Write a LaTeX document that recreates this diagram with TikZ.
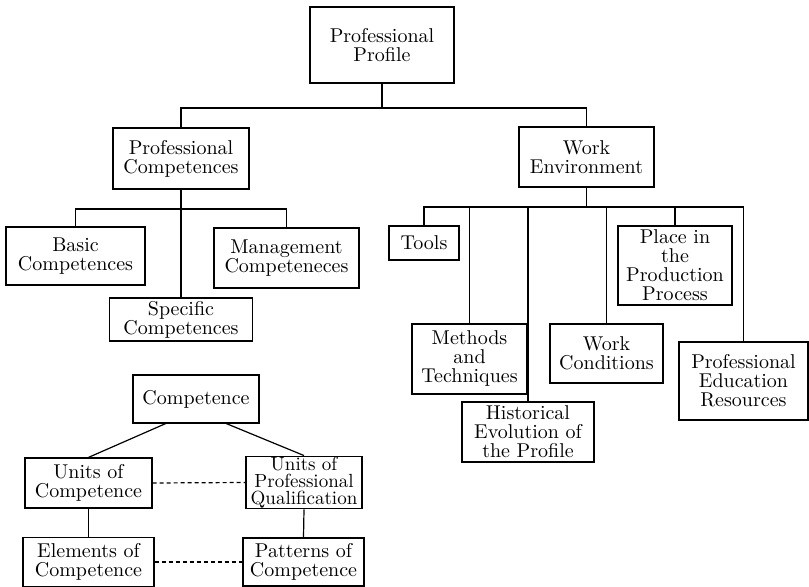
\documentclass[tikz,border=0pt]{standalone}
\usepackage{tikz}
\begin{document}
\begin{tikzpicture}[x=0.5pt, y=-0.5pt,
    box/.style={draw, line width=0.6pt, align=center, inner sep=1pt, font=\fontsize{10}{9.5}\selectfont},
    tightbox/.style={box, inner sep=0.3pt, font=\fontsize{9.5}{8.6}\selectfont},
    link/.style={line width=0.6pt},
    dotlink/.style={line width=0.6pt, dash pattern=on 2pt off 1.5pt}]
    \useasboundingbox (0,0) rectangle (809,587);

    \node[box, minimum width=72pt, minimum height=38pt] (pp) at (382,45) {Professional\\Profile};
    \node[box, minimum width=68pt, minimum height=30.5pt] (pc) at (181,158.5) {Professional\\Competences};
    \node[box, minimum width=67.5pt, minimum height=30pt] (we) at (586.5,157) {Work\\Environment};

    \node[box, minimum width=69.5pt, minimum height=29pt] (basic) at (75.5,256) {Basic\\Competences};
    \node[box, minimum width=72.5pt, minimum height=30pt] (mgmt) at (286.5,258) {Management\\Competeneces};
    \node[box, minimum width=71.5pt, minimum height=21.5pt] (spec) at (181,319.5) {Specific\\Competences};

    \node[box, minimum width=35pt, minimum height=17pt] (tools) at (424,243) {Tools};
    \node[box, minimum width=57.5pt, minimum height=35pt] (meth) at (469.5,359) {Methods\\and\\Techniques};
    \node[box, minimum width=66pt, minimum height=30pt] (hist) at (528,432) {Historical\\Evolution of\\the Profile};
    \node[box, minimum width=56.5pt, minimum height=29.5pt] (wc) at (606.5,353.5) {Work\\Conditions};
    \node[box, minimum width=57pt, minimum height=39.5pt] (place) at (675,265.5) {Place in\\the\\Production\\Process};
    \node[box, minimum width=64.5pt, minimum height=39pt] (pe) at (743.5,381) {Professional\\Education\\Resources};

    \node[box, minimum width=63pt, minimum height=24pt] (comp) at (196,399) {Competence};
    \node[box, minimum width=63.5pt, minimum height=25pt] (uoc) at (88.5,483) {Units of\\Competence};
    \node[tightbox, minimum width=58pt, minimum height=24.5pt] (upq) at (304,482.5) {Units of\\Professional\\Qualification};
    \node[box, minimum width=65.5pt, minimum height=24.5pt] (elem) at (88.5,562) {Elements of\\Competence};
    \node[box, minimum width=60.5pt, minimum height=24pt] (pat) at (303.5,562) {Patterns of\\Competence};

    \coordinate (ppj) at (382,108);
    \coordinate (pcj) at (181,209);
    \coordinate (wej) at (586.5,207);

    \draw[link] (pp.south) -- (ppj);
    \draw[link] (pc.north) |- (ppj) -| (we.north);

    \draw[link] (pc.south) -- (spec.north);
    \draw[link] (basic.north) |- (pcj) -| (mgmt.north);

    \draw[link] (we.south) -- (wej);
    \draw[link] (tools.north) |- (wej) -| (pe.north);
    \foreach \n in {meth, hist, wc, place}
        \draw[link] (\n.north) -- (\n.north |- wej);

    \draw[link] (comp.219) -- (uoc.north);
    \draw[link] (comp.321) -- (upq.north);
    \draw[link] (uoc.south) -- (elem.north);
    \draw[link] (upq.south) -- (pat.north);
    \draw[dotlink] (uoc.east) -- (upq.west);
    \draw[dotlink] (elem.east) -- (pat.west);
\end{tikzpicture}
\end{document}
